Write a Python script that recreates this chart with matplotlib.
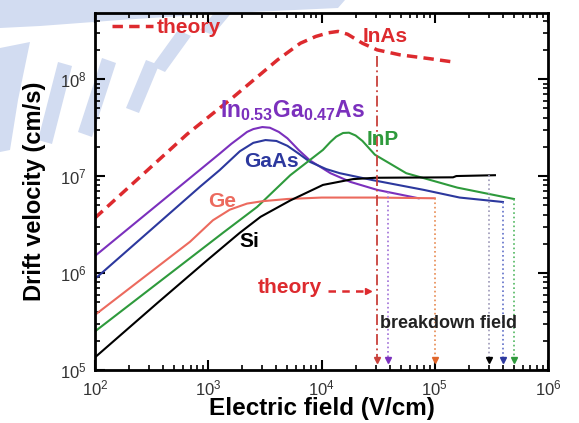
import numpy as np
import matplotlib
matplotlib.use("Agg")
import matplotlib.pyplot as plt
from matplotlib.patches import Polygon

plt.rcParams["font.family"] = ["Liberation Sans", "DejaVu Sans"]
plt.rcParams["mathtext.fontset"] = "custom"
plt.rcParams["mathtext.rm"] = "Liberation Sans"
plt.rcParams["mathtext.bf"] = "Liberation Sans:bold"
plt.rcParams["mathtext.default"] = "regular"

# electron drift velocity (cm/s) against electric field (V/cm)
inas_E = [1e2, 6.5e2, 1.66e3, 4.1e3, 6.5e3, 8.9e3, 1.15e4, 1.4e4, 1.7e4,
          2.3e4, 3.1e4, 4.9e4, 9.1e4, 1.4e5]
inas_v = [3.7e6, 2.7e7, 6.5e7, 1.58e8, 2.34e8, 2.75e8, 3.0e8, 3.1e8, 2.9e8,
          2.34e8, 2.0e8, 1.78e8, 1.62e8, 1.51e8]

ingaas_E = [1e2, 1.26e3, 1.6e3, 1.9e3, 2.2e3, 2.5e3, 3.0e3, 3.5e3, 4.2e3, 5e3,
            6.3e3, 7.9e3, 1.2e4, 1.8e4, 3.1e4, 7.2e4]
ingaas_v = [1.5e6, 1.7e7, 2.15e7, 2.5e7, 2.85e7, 3.05e7, 3.2e7, 3.15e7, 2.85e7, 2.45e7,
            1.85e7, 1.45e7, 1.07e7, 8.7e6, 7.2e6, 5.9e6]

gaas_E = [1e2, 8.5e2, 1.26e3, 1.9e3, 2.5e3, 3.2e3, 4e3, 5e3, 6.3e3, 7.9e3,
          1.1e4, 1.45e4, 2.8e4, 8e4, 1.66e5, 4e5]
gaas_v = [8.7e5, 7.8e6, 1.15e7, 1.8e7, 2.2e7, 2.35e7, 2.3e7, 2.05e7, 1.7e7, 1.4e7,
          1.18e7, 1.07e7, 9.1e6, 7.2e6, 6.0e6, 5.4e6]

inp_E = [1e2, 1.35e3, 2.7e3, 5.3e3, 1.03e4, 1.2e4, 1.35e4, 1.55e4, 1.75e4, 2.0e4,
         2.3e4, 2.96e4, 4e4, 5.6e4, 1.58e5, 5e5]
inp_v = [2.5e5, 2.6e6, 4.8e6, 1.02e7, 1.86e7, 2.25e7, 2.55e7, 2.78e7, 2.8e7, 2.62e7,
         2.3e7, 1.66e7, 1.35e7, 1.07e7, 7.6e6, 5.8e6]

ge_E = [1e2, 6.9e2, 1.1e3, 1.55e3, 2.2e3, 3e3, 5e3, 1e4, 3e4, 1e5]
ge_v = [3.7e5, 2.1e6, 3.5e6, 4.5e6, 5.2e6, 5.5e6, 5.8e6, 6.0e6, 6.0e6, 5.9e6]

si_E = [1e2, 3.55e2, 9.75e2, 1.9e3, 2.9e3, 5.3e3, 1.03e4, 1.9e4, 3e4, 1.45e5, 1.55e5, 3.4e5]
si_v = [1.35e5, 4.9e5, 1.35e6, 2.6e6, 3.8e6, 5.6e6, 8.1e6, 9.3e6, 9.6e6, 9.7e6, 1.0e7, 1.02e7]

# breakdown fields (V/cm)
inas_bd = 3.1e4
ingaas_bd = 3.9e4
ge_bd = 1.0e5
si_bd = 3.0e5
gaas_bd = 4.0e5
inp_bd = 5.0e5

RED = "#dd2a2e"
PURPLE = "#7b30bd"
BLUE = "#2c389e"
GREEN = "#2e9a3c"
SALMON = "#ec6a5e"


def v_at(E, xs, ys):
    return 10 ** np.interp(np.log10(E), np.log10(xs), np.log10(ys))


fig = plt.figure(figsize=(5.79, 4.23), dpi=100)

# faint logo watermark behind everything (pixel coords, y measured from top)
wm_color = "#d2dcf1"
wm_shapes = [
    [(0, 0), (345, 0), (338, 8), (230, 13), (120, 20), (40, 26), (0, 28)],
    [(0, 48), (30, 42), (18, 100), (10, 150), (0, 152)],
    [(38, 140), (58, 62), (72, 66), (52, 144)],
    [(78, 132), (102, 58), (116, 63), (92, 137)],
    [(126, 108), (146, 60), (159, 65), (139, 113)],
    [(152, 66), (178, 30), (191, 36), (165, 72)],
    [(200, 30), (220, 6), (233, 11), (213, 35)],
]
for pts in wm_shapes:
    fig.add_artist(Polygon([(x / 579, 1 - y / 423) for x, y in pts],
                           closed=True, transform=fig.transFigure,
                           facecolor=wm_color, edgecolor="none", zorder=-1))

ax = fig.add_axes([95 / 579, 53 / 423, 453 / 579, 357 / 423])
ax.set_facecolor("none")
ax.set_xscale("log")
ax.set_yscale("log")
ax.set_xlim(1e2, 1e6)
ax.set_ylim(1e5, 4.8e8)

inas_line, = ax.plot(inas_E, inas_v, color=RED, lw=2.5, dashes=(3, 1.8))
ax.plot(ingaas_E, ingaas_v, color=PURPLE, lw=1.5)
ax.plot(gaas_E, gaas_v, color=BLUE, lw=1.5)
ax.plot(inp_E, inp_v, color=GREEN, lw=1.5)
ax.plot(ge_E, ge_v, color=SALMON, lw=1.5)
ax.plot(si_E, si_v, color="black", lw=1.5)

# breakdown markers dropping to the field axis
v_floor = 1.27e5
ax.plot([inas_bd, inas_bd], [v_at(inas_bd, inas_E, inas_v) * 0.86, v_floor],
        color="#c8403a", lw=1.3, dashes=(6, 2, 1, 2))
ax.plot([inas_bd], [v_floor], marker="v", ms=5, color="#c8403a")

drops = [
    (ingaas_bd, v_at(ingaas_bd, ingaas_E, ingaas_v), "#a070d8", PURPLE),
    (ge_bd, ge_v[-1], "#e88a50", "#e0652a"),
    (si_bd, v_at(si_bd, si_E, si_v), "#9c98b8", "black"),
    (gaas_bd, gaas_v[-1], "#6070c8", BLUE),
    (inp_bd, inp_v[-1], "#50b860", GREEN),
]
for E, v_top, lc, mc in drops:
    ax.plot([E, E], [v_top, v_floor], color=lc, lw=1.2, ls=":")
    ax.plot([E], [v_floor], marker="v", ms=5, color=mc)

# curve labels
bold = dict(fontweight="bold")
ax.text(3.66e4, 2.75e8, "InAs", color=RED, fontsize=15, ha="center", va="center", **bold)
ax.text(1.26e3, 4.1e7, r"$\mathbf{In_{0.53}Ga_{0.47}As}$", color=PURPLE, fontsize=16.5,
        ha="left", va="baseline")
ax.text(2.08e3, 1.23e7, "GaAs", color=BLUE, fontsize=15, ha="left", va="baseline", **bold)
ax.text(2.5e4, 2.1e7, "InP", color=GREEN, fontsize=15, ha="left", va="baseline", **bold)
ax.text(1.0e3, 4.8e6, "Ge", color=SALMON, fontsize=15, ha="left", va="baseline", **bold)
ax.text(1.9e3, 1.86e6, "Si", color="black", fontsize=15, ha="left", va="baseline", **bold)
ax.text(2.76e3, 6.2e5, "theory", color=RED, fontsize=15, ha="left", va="baseline", **bold)
ax.plot([1.15e4, 2.6e4], [6.6e5, 6.6e5], color=RED, lw=1.8, dashes=(3, 2.5))
ax.plot([2.6e4], [6.6e5], marker=">", ms=5, color=RED)
ax.text(3.3e4, 2.7e5, "breakdown field", color="#222222", fontsize=13,
        ha="left", va="baseline", **bold)

leg = ax.legend([inas_line], ["theory"], loc="upper left", bbox_to_anchor=(0.037, 0.985),
                frameon=False, handlelength=2.0, handletextpad=0.15, borderpad=0,
                borderaxespad=0, prop=dict(family="Liberation Sans", weight="bold", size=15))
for t in leg.get_texts():
    t.set_color(RED)

ax.set_xlabel("Electric field (V/cm)", fontsize=17.5, fontweight="bold", labelpad=-1)
ax.set_ylabel("Drift velocity (cm/s)", fontsize=17, fontweight="bold", labelpad=10)

for side in ax.spines.values():
    side.set_linewidth(2)
ax.tick_params(which="both", direction="in", top=True, right=True, colors="black",
               labelcolor="#333333", labelsize=12)
ax.tick_params(which="major", length=7, width=1.5, pad=6)
ax.tick_params(which="minor", length=3.5, width=1.2)

fig.savefig("out.png", dpi=100)
